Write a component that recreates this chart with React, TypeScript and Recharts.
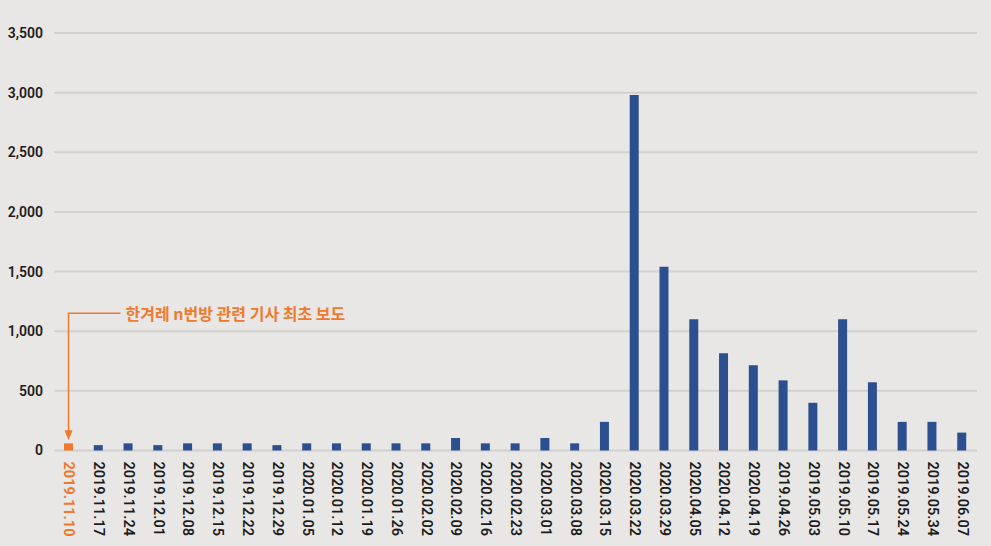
import { BarChart, Bar, XAxis, YAxis, CartesianGrid, Rectangle } from 'recharts'

const BLUE = '#2c4f8f'
const ORANGE = '#ef7a2e'

const weeks = [
  '2019.11.10', '2019.11.17', '2019.11.24', '2019.12.01', '2019.12.08', '2019.12.15',
  '2019.12.22', '2019.12.29', '2020.01.05', '2020.01.12', '2020.01.19', '2020.01.26',
  '2020.02.02', '2020.02.09', '2020.02.16', '2020.02.23', '2020.03.01', '2020.03.08',
  '2020.03.15', '2020.03.22', '2020.03.29', '2020.04.05', '2020.04.12', '2020.04.19',
  '2019.04.26', '2019.05.03', '2019.05.10', '2019.05.17', '2019.05.24', '2019.05.34',
  '2019.06.07',
]

const articles = [
  60, 45, 60, 45, 60, 60,
  60, 45, 60, 60, 60, 60,
  60, 105, 60, 60, 105, 60,
  240, 2980, 1540, 1100, 815, 715,
  588, 400, 1100, 572, 240, 240,
  150,
]

const yTicks = [0, 500, 1000, 1500, 2000, 2500, 3000, 3500]

const firstReportWeek = '2019.11.10'
const noteText = '한겨레 n번방 관련 기사 최초 보도'
const noteLevel = 1150

const data = weeks.map((week, i) => ({ week, count: articles[i] }))

function WeekTick({ x, y, payload }: any) {
  const first = payload.value === firstReportWeek
  return (
    <text
      x={x}
      y={y}
      transform={`rotate(90 ${x} ${y})`}
      textAnchor="start"
      dominantBaseline="central"
      fill={first ? ORANGE : '#1c1c1c'}
      fontSize={14.5}
      fontWeight={first ? 700 : 600}
    >
      {payload.value}
    </text>
  )
}

function WeekBar(props: any) {
  const { x, y, width, height, payload } = props
  const first = payload.week === firstReportWeek
  if (!first) return <Rectangle x={x} y={y} width={width} height={height} fill={BLUE} />
  const cx = x + width / 2
  const base = y + height
  const elbowY = base - (noteLevel * height) / payload.count
  const tipY = y - 3
  return (
    <g>
      <Rectangle x={x} y={y} width={width} height={height} fill={ORANGE} />
      <polyline points={`${cx + 52},${elbowY} ${cx},${elbowY} ${cx},${tipY - 8}`} fill="none" stroke={ORANGE} strokeWidth={1.5} />
      <polygon points={`${cx - 4},${tipY - 10} ${cx + 4},${tipY - 10} ${cx},${tipY}`} fill={ORANGE} />
      <text
        x={cx + 57}
        y={elbowY}
        dominantBaseline="central"
        fill={ORANGE}
        fontSize={16}
        fontWeight={700}
        fontFamily="'Noto Sans CJK KR', sans-serif"
      >
        {noteText}
      </text>
    </g>
  )
}

export default function App() {
  return (
    <div style={{ position: 'absolute', left: 0, top: 0, width: 991, height: 546, background: '#e8e7e5', fontFamily: 'Roboto, sans-serif' }}>
      <BarChart width={991} height={546} data={data} margin={{ top: 33, right: 14, bottom: 5, left: 0 }}>
        <CartesianGrid vertical={false} stroke="#d2d1cf" strokeWidth={2} />
        <XAxis
          dataKey="week"
          interval={0}
          axisLine={false}
          tickLine={false}
          tickSize={6}
          tickMargin={5}
          height={90.5}
          tick={<WeekTick />}
        />
        <YAxis
          domain={[0, 3500]}
          ticks={yTicks}
          width={54}
          axisLine={false}
          tickLine={false}
          tickSize={6}
          tickMargin={5}
          tickFormatter={(v: number) => v.toLocaleString('en-US')}
          tick={{ fill: '#1c1c1c', fontSize: 14, fontWeight: 600 }}
        />
        <Bar dataKey="count" barSize={9} isAnimationActive={false} shape={<WeekBar />} />
      </BarChart>
    </div>
  )
}
